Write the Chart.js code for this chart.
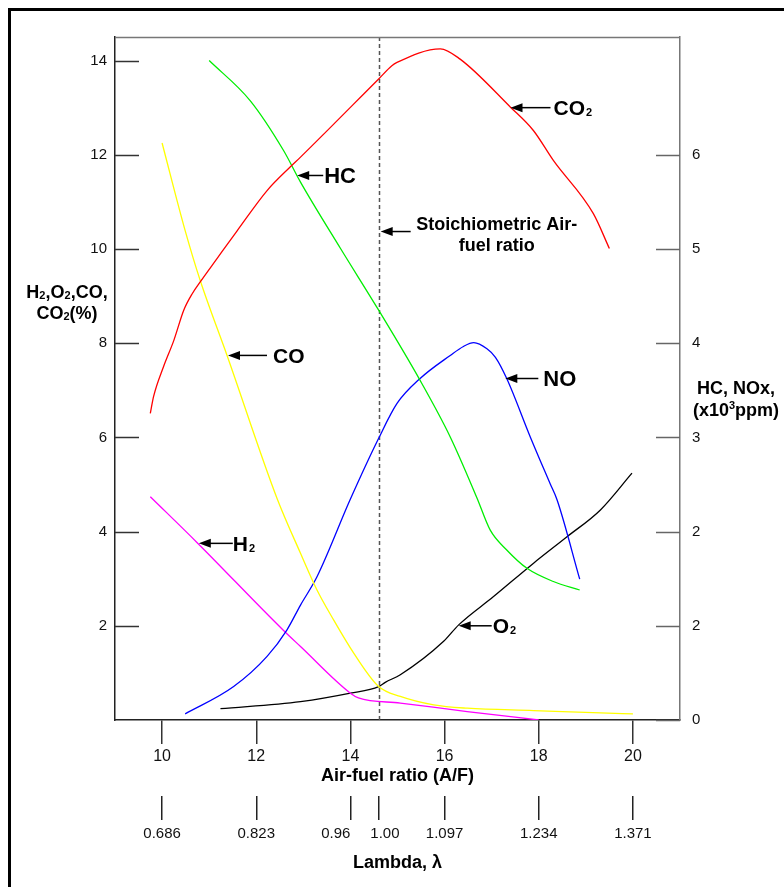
<!DOCTYPE html>
<html><head><meta charset="utf-8">
<script src="https://cdn.jsdelivr.net/npm/chart.js@4"></script>
<style>
html,body{margin:0;padding:0;background:#fff;}
#wrap{position:relative;width:784px;height:887px;overflow:hidden;font-family:Arial,"Liberation Sans",sans-serif;}
#frame{position:absolute;left:8px;top:8px;width:820px;height:920px;border-left:3px solid #000;border-top:3px solid #000;}
canvas{position:absolute;left:0;top:0;}
.lbl{position:absolute;font-weight:bold;font-size:18px;color:#000;text-align:center;line-height:21px;white-space:nowrap;}
.lbl sub{font-size:11px;vertical-align:-1px;line-height:0;}
.lbl sup{font-size:11px;vertical-align:7px;line-height:0;}
</style></head>
<body><div id="wrap"><div id="frame"></div><canvas id="c" width="784" height="887"></canvas>
<div class="lbl" style="left:17px;top:282px;width:100px;">H<sub>2</sub>,O<sub>2</sub>,CO,<br>CO<sub>2</sub>(%)</div>
<div class="lbl" style="left:686px;top:377px;width:100px;line-height:22px;">HC, NOx,<br>(x10<sup>3</sup>ppm)</div>
</div>
<script>
// ---- axis ticks / labels ----
const afTicks = [10, 12, 14, 16, 18, 20];
const lambdaPos = [10, 12, 14, 14.6, 16, 18, 20];
const lambdaLabels = ['0.686', '0.823', '0.96       ', '   1.00', '1.097', '1.234', '1.371'];
const leftTicks = [2, 4, 6, 8, 10, 12, 14];
const rightTickPos = [0, 1, 2, 3, 4, 5, 6];
const rightTickLabels = ['0', '2', '2', '3', '4', '5', '6'];
const stoichAF = 14.6;

// ---- series (left axis, %) ----
const co2X = [9.75, 9.82, 10.03, 10.25, 10.46, 10.64, 10.81, 11.17, 11.59, 12.23, 12.72, 12.94, 14.60, 14.88, 14.99, 15.91, 16.33, 17.40, 17.89, 18.31, 19.16, 19.50];
const co2Y = [6.51, 6.87, 7.50, 8.06, 8.70, 9.05, 9.30, 9.80, 10.38, 11.24, 11.74, 11.95, 13.61, 13.89, 13.96, 14.25, 14.03, 13.01, 12.51, 11.88, 10.75, 10.01];

const coX = [10.0, 10.49, 10.81, 11.38, 12.44, 12.94, 13.29, 13.64, 14.07, 14.60, 15.06, 15.77, 16.48, 17.89, 19.31, 20.0];
const coY = [12.25, 10.39, 9.33, 7.74, 4.71, 3.54, 2.76, 2.13, 1.42, 0.71, 0.50, 0.32, 0.25, 0.20, 0.15, 0.13];

const h2X = [9.75, 10.74, 12.58, 12.94, 14.00, 14.17, 15.06, 16.48, 18.0];
const h2Y = [4.74, 3.77, 1.90, 1.56, 0.57, 0.47, 0.36, 0.18, 0.0];

const o2X = [11.24, 12.94, 14.00, 14.60, 14.74, 15.06, 15.98, 16.30, 17.04, 17.89, 18.60, 19.31, 19.98];
const o2Y = [0.24, 0.39, 0.57, 0.71, 0.80, 0.96, 1.67, 2.02, 2.62, 3.33, 3.89, 4.46, 5.24];

// ---- series (right axis, x10^3 ppm) ----
const hcX = [11.0, 11.87, 12.58, 12.94, 13.79, 14.60, 15.48, 16.12, 16.69, 16.97, 17.32, 17.75, 18.31, 18.87];
const hcY = [7.0, 6.575, 6.045, 5.71, 5.005, 4.35, 3.605, 3.005, 2.355, 2.015, 1.805, 1.61, 1.47, 1.38];

const noX = [10.49, 11.52, 12.23, 12.65, 12.94, 13.29, 14.0, 14.60, 14.99, 15.48, 16.12, 16.40, 16.62, 16.90, 17.08, 17.32, 17.82, 18.24, 18.39, 18.87];
const noY = [0.065, 0.355, 0.675, 0.955, 1.22, 1.52, 2.345, 2.99, 3.36, 3.625, 3.87, 3.965, 4.005, 3.94, 3.85, 3.625, 3.005, 2.51, 2.335, 1.495];

const pts = (xs, ys) => xs.map((v, i) => ({x: v, y: ys[i]}));

const FONT = 'Arial, "Liberation Sans", sans-serif';
Chart.defaults.font.family = FONT;
Chart.defaults.color = '#111';

function line(data, color, axis) {
  return {data, borderColor: color, borderWidth: 1.3, pointRadius: 0, fill: false,
    cubicInterpolationMode: 'monotone', yAxisID: axis};
}

// callouts: arrow tip in data coordinates (left-axis units)
const callouts = [
  {t: 'CO', s: '2', x: 17.40, y: 13.0, len: 40, gap: 3, size: 21},
  {t: 'HC', s: '', x: 12.87, y: 11.56, len: 26, gap: 1, size: 22},
  {t: 'CO', s: '', x: 11.40, y: 7.74, len: 39, gap: 6, size: 21},
  {t: 'NO', s: '', x: 17.29, y: 7.25, len: 33, gap: 5, size: 22},
  {t: 'H', s: '2', x: 10.78, y: 3.75, len: 34, gap: 0, size: 21},
  {t: 'O', s: '2', x: 16.30, y: 2.0, len: 33, gap: 1, size: 21}
];
const stoichNote = {lines: ['Stoichiometric Air-', 'fuel ratio'], y: 10.37, len: 30};

function arrow(ctx, px, py, len) {
  ctx.strokeStyle = '#000'; ctx.fillStyle = '#000'; ctx.lineWidth = 1.5;
  ctx.beginPath(); ctx.moveTo(px + 10, py); ctx.lineTo(px + len, py); ctx.stroke();
  ctx.beginPath(); ctx.moveTo(px, py); ctx.lineTo(px + 12, py - 4.5); ctx.lineTo(px + 12, py + 4.5); ctx.closePath(); ctx.fill();
}

const decor = {
  id: 'decor',
  beforeDatasetsDraw(chart) {
    const {ctx, chartArea: a, scales: {x, y, y2}} = chart;
    ctx.save();
    const sx = Math.round(x.getPixelForValue(stoichAF)) + 0.5;
    ctx.strokeStyle = '#555'; ctx.lineWidth = 1.5; ctx.setLineDash([4, 3]);
    ctx.beginPath(); ctx.moveTo(sx, a.top); ctx.lineTo(sx, a.bottom); ctx.stroke();
    ctx.setLineDash([]);
    ctx.strokeStyle = '#777'; ctx.lineWidth = 1.5;
    ctx.beginPath(); ctx.moveTo(a.left, a.top + 0.5); ctx.lineTo(a.right, a.top + 0.5); ctx.stroke();
    ctx.strokeStyle = '#333';
    y.ticks.forEach(t => {
      const py = Math.round(y.getPixelForValue(t.value)) + 0.5;
      ctx.beginPath(); ctx.moveTo(a.left, py); ctx.lineTo(a.left + 24, py); ctx.stroke();
    });
    ctx.strokeStyle = '#666';
    y2.ticks.forEach(t => {
      const py = Math.round(y2.getPixelForValue(t.value)) + 0.5;
      ctx.beginPath(); ctx.moveTo(a.right - 24, py); ctx.lineTo(a.right, py); ctx.stroke();
    });
    ctx.restore();
  },
  afterDatasetsDraw(chart) {
    const {ctx, scales: {x, y}} = chart;
    ctx.save();
    callouts.forEach(c => {
      const px = x.getPixelForValue(c.x), py = y.getPixelForValue(c.y);
      arrow(ctx, px, py, c.len);
      ctx.font = 'bold ' + c.size + 'px ' + FONT;
      ctx.textAlign = 'left'; ctx.textBaseline = 'alphabetic'; ctx.fillStyle = '#000';
      const tx = px + c.len + c.gap, base = py + c.size * 0.36;
      ctx.fillText(c.t, tx, base);
      if (c.s) {
        const w = ctx.measureText(c.t).width;
        ctx.font = 'bold 11px ' + FONT;
        ctx.fillText(c.s, tx + w + 1, base + 1);
      }
    });
    const px = x.getPixelForValue(stoichAF) + 2, py = y.getPixelForValue(stoichNote.y);
    arrow(ctx, px, py, stoichNote.len);
    ctx.font = 'bold 18px ' + FONT; ctx.textAlign = 'center'; ctx.textBaseline = 'middle';
    ctx.fillText(stoichNote.lines[0], px + 116, py - 7);
    ctx.fillText(stoichNote.lines[1], px + 116, py + 14);
    ctx.restore();
  }
};

new Chart(document.getElementById('c'), {
  type: 'line',
  data: {
    datasets: [
      line(pts(co2X, co2Y), '#ff0000', 'y'),
      line(pts(hcX, hcY), '#00ee00', 'y2'),
      line(pts(coX, coY), '#ffff00', 'y'),
      line(pts(noX, noY), '#0000ff', 'y2'),
      line(pts(h2X, h2Y), '#ff00ff', 'y'),
      line(pts(o2X, o2Y), '#000000', 'y')
    ]
  },
  options: {
    responsive: false, animation: false,
    layout: {padding: {top: 37, left: 0, right: 0, bottom: 0}},
    plugins: {legend: {display: false}, tooltip: {enabled: false}},
    scales: {
      x: {
        type: 'linear', position: 'bottom', min: 9, max: 21, weight: 0,
        afterBuildTicks: s => { s.ticks = afTicks.map(v => ({value: v})); },
        afterFit: s => { s.height = 76; },
        grid: {drawOnChartArea: false, tickLength: 24, color: '#333', lineWidth: 1.5},
        border: {color: '#222', width: 1.5},
        ticks: {font: {size: 16}, padding: 3, color: '#111', autoSkip: false, maxRotation: 0},
        title: {display: true, text: 'Air-fuel ratio (A/F)', font: {size: 18, weight: 'bold'}, color: '#000', padding: {top: 0, bottom: 9}}
      },
      x2: {
        type: 'linear', position: 'bottom', min: 9, max: 21, weight: 1,
        afterBuildTicks: s => { s.ticks = lambdaPos.map(v => ({value: v})); },
        afterFit: s => { s.height = 91; },
        grid: {drawOnChartArea: false, tickLength: 24, color: '#222', lineWidth: 1.5},
        border: {display: false},
        ticks: {font: {size: 15}, padding: 5, color: '#111', autoSkip: false, maxRotation: 0,
          callback: (v, i) => lambdaLabels[i]},
        title: {display: true, text: 'Lambda, λ', font: {size: 18, weight: 'bold'}, color: '#000', padding: {top: 0, bottom: 13}}
      },
      y: {
        type: 'linear', position: 'left', min: 0, max: 14.5,
        afterBuildTicks: s => { s.ticks = leftTicks.map(v => ({value: v})); },
        afterFit: s => { s.width = 115; },
        grid: {drawOnChartArea: false, drawTicks: false},
        border: {color: '#222', width: 1.5},
        ticks: {font: {size: 15}, padding: 8, color: '#111'}
      },
      y2: {
        type: 'linear', position: 'right', min: 0, max: 7.25,
        afterBuildTicks: s => { s.ticks = rightTickPos.map(v => ({value: v})); },
        afterFit: s => { s.width = 104; },
        grid: {drawOnChartArea: false, drawTicks: false},
        border: {color: '#777', width: 1.5},
        ticks: {font: {size: 15}, padding: 12, color: '#111', callback: (v, i) => rightTickLabels[i]}
      }
    }
  },
  plugins: [decor]
});
</script>
</body></html>
